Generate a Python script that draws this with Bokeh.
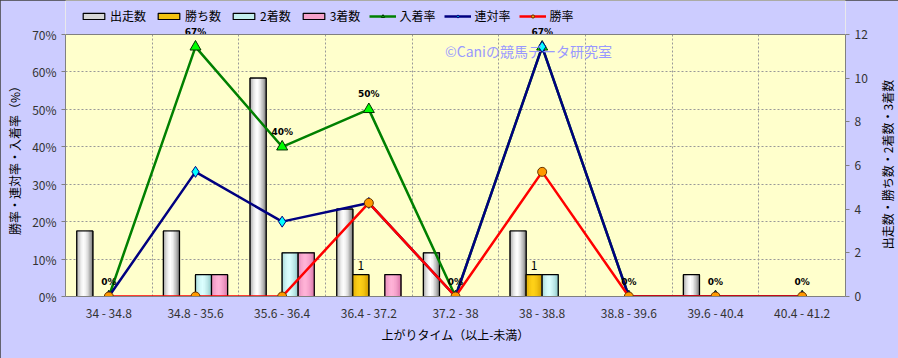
import numpy as np
from bokeh.plotting import figure
from bokeh.models import (Range1d, LinearAxis, FixedTicker, PrintfTickFormatter,
                          Legend, LegendItem, Label, Span)
from bokeh.core.properties import value
from bokeh.embed import file_html
from bokeh.resources import INLINE

categories = ["34 - 34.8", "34.8 - 35.6", "35.6 - 36.4", "36.4 - 37.2", "37.2 - 38",
              "38 - 38.8", "38.8 - 39.6", "39.6 - 40.4", "40.4 - 41.2"]
runs = [3, 3, 10, 4, 2, 3, 0, 1, 0]
wins = [0, 0, 0, 1, 0, 1, 0, 0, 0]
seconds = [0, 1, 2, 0, 0, 1, 0, 0, 0]
thirds = [0, 1, 2, 1, 0, 0, 0, 0, 0]
place_rate = [0, 66.7, 40, 50, 0, 66.7, 0, 0, 0]
quinella_rate = [0, 33.3, 20, 25, 0, 66.7, 0, 0, 0]
win_rate = [0, 0, 0, 25, 0, 33.3, 0, 0, 0]
place_labels = ["0%", "67%", "40%", "50%", "0%", "67%", "0%", "0%", "0%"]
left_ticks = [0, 10, 20, 30, 40, 50, 60, 70]
right_ticks = [0, 2, 4, 6, 8, 10, 12]

JP = "Noto Sans CJK JP"
LAV = "#CCCCFF"
PAD = "\u3000\u3000"  # keeps rotated title centred on the 0-70% span
n = len(categories)
xc = np.arange(n) + 0.5

PCT_MAX = 70.0
CNT_MAX = 12.0
# frame extends to the canvas top so that the legend and top labels are drawn
EXT = 296.0 / 262.0
y_top = PCT_MAX * EXT

p = figure(width=898, height=358, x_range=Range1d(0, n), y_range=Range1d(0, y_top),
           output_backend="svg", toolbar_location=None,
           min_border_left=65, min_border_right=53, min_border_top=0, min_border_bottom=62)
p.extra_y_ranges = {"cnt": Range1d(0, CNT_MAX * EXT)}
p.background_fill_color = "#FFFFCC"
p.border_fill_color = LAV
p.outline_line_color = None
p.styles = {"outline": "1px solid #404040", "outline-offset": "-1px"}

# axes
p.xaxis.ticker = FixedTicker(ticks=list(xc))
p.xaxis.major_label_overrides = {float(x): c for x, c in zip(xc, categories)}
p.xaxis.major_tick_out = 0
p.xaxis.major_tick_in = 0
p.xaxis.major_label_standoff = 7
p.xaxis.axis_label = "上がりタイム（以上-未満）"
p.xaxis.axis_label_standoff = 2

p.yaxis.ticker = FixedTicker(ticks=left_ticks)
p.yaxis.formatter = PrintfTickFormatter(format="%d%%")
p.yaxis.axis_label = "勝率・連対率・入着率（%）" + PAD
p.yaxis.axis_label_standoff = 6
p.yaxis.bounds = (0, PCT_MAX)

raxis = LinearAxis(y_range_name="cnt", ticker=FixedTicker(ticks=right_ticks),
                   bounds=(0, CNT_MAX))
p.add_layout(raxis, "right")

for ax in [p.xaxis[0], p.yaxis[0], raxis]:
    ax.major_label_text_font = JP
    ax.major_label_text_font_size = "12px"
    ax.major_label_text_color = "#333333"
    ax.axis_label_text_font = JP
    ax.axis_label_text_font_size = "12px"
    ax.axis_label_text_font_style = "normal"
    ax.axis_label_text_color = "#000000"
    ax.minor_tick_line_color = None
    ax.axis_line_color = "#808080"
    ax.major_tick_line_color = "#808080"
for ax in [p.yaxis[0], raxis]:
    ax.major_tick_out = 4
    ax.major_tick_in = 0
    ax.major_label_standoff = 5

# right-hand title, read from bottom to top, in the right side panel
p.add_layout(Label(x=17, y=132, x_units="screen", y_units="screen",
                   text="出走数・勝ち数・2着数・3着数", text_font=JP, text_font_size="12px",
                   text_color="#000000", angle=np.pi / 2, text_align="center",
                   text_baseline="middle"), "right")

# grid
p.xgrid.ticker = FixedTicker(ticks=list(range(1, n)))
p.ygrid.ticker = FixedTicker(ticks=left_ticks[1:-1])
for g in [p.xgrid[0], p.ygrid[0]]:
    g.grid_line_color = "#999999"
    g.grid_line_dash = "2 2"
    g.grid_line_width = 1

# band above the plot area (part of the outer background)
p.quad(left=[0], right=[n], bottom=[PCT_MAX], top=[y_top], fill_color=LAV, line_color=None)
p.add_layout(Span(location=PCT_MAX, dimension="width", line_color="#808080", line_width=1))


def hexrgb(h):
    h = h.lstrip("#")
    return tuple(int(h[i:i + 2], 16) for i in (0, 2, 4))


def mix(c1, c2, s):
    a, b = hexrgb(c1), hexrgb(c2)
    return "#%02x%02x%02x" % tuple(int(round(x + (y - x) * s)) for x, y in zip(a, b))


bar_w = 0.185
NSTRIP = 10


def draw_bars(vals, idx, edge, center):
    xs = xc + (idx - 1.5) * bar_w
    base = p.vbar(x=xs, top=vals, bottom=0, width=bar_w, fill_color=mix(edge, center, 0.7),
                  line_color="#000000", line_width=1.2, y_range_name="cnt")
    sw = bar_w / NSTRIP
    for k in range(NSTRIP):
        t = (k + 0.5) / NSTRIP
        s = max(0.0, 1 - (abs(t - 0.45) / 0.55) ** 1.6)
        col = mix(edge, center, s)
        p.vbar(x=xs - bar_w / 2 + (k + 0.5) * sw, top=vals, bottom=0, width=sw,
               fill_color=col, line_color=col, line_width=0.6, y_range_name="cnt")
    p.vbar(x=xs, top=vals, bottom=0, width=bar_w, fill_alpha=0,
           line_color="#000000", line_width=1.2, y_range_name="cnt")
    return base


lg_runs = draw_bars(runs, 0, "#7a7a7a", "#ffffff")
lg_wins = draw_bars(wins, 1, "#d29c00", "#ffd21a")
lg_sec = draw_bars(seconds, 2, "#8cc8c8", "#dcffff")
lg_thr = draw_bars(thirds, 3, "#dc78aa", "#ffb4d8")

# lines
l1 = p.line(xc, place_rate, line_color="#008000", line_width=2.5)
m1 = p.scatter(xc, place_rate, marker="triangle", size=11, fill_color="#00FF00",
               line_color="#003300", line_width=1)
l2 = p.line(xc, quinella_rate, line_color="#000080", line_width=2.5)
m2 = p.scatter(xc, quinella_rate, marker="diamond", size=11, fill_color="#00FFFF",
               line_color="#000080", line_width=1)
l3 = p.line(xc, win_rate, line_color="#FF0000", line_width=2.5)
m3 = p.scatter(xc, win_rate, marker="circle", size=9, fill_color="#FF9900",
               line_color="#663300", line_width=1)

# labels
p.text(x=xc, y=place_rate, text=place_labels, text_font=value("DejaVu Sans"),
       text_font_size="9px", text_font_style="bold", text_align="center",
       text_baseline="bottom", y_offset=-10, text_color="#000000")
wx = [x + (1 - 1.5) * bar_w for x, w in zip(xc, wins) if w > 0]
wy = [w for w in wins if w > 0]
p.text(x=wx, y=wy, text=[str(w) for w in wy], text_font=value(JP),
       text_font_size="12px", text_align="center", text_baseline="bottom",
       y_offset=-5, text_color="#000000", y_range_name="cnt")

# watermark
p.add_layout(Label(x=4.38, y=65.7, text="©Caniの競馬データ研究室", text_font=JP,
                   text_font_size="14px", text_color="#9999FF", text_baseline="middle"))

legend = Legend(items=[
    LegendItem(label="出走数", renderers=[lg_runs]),
    LegendItem(label="勝ち数", renderers=[lg_wins]),
    LegendItem(label="2着数", renderers=[lg_sec]),
    LegendItem(label="3着数", renderers=[lg_thr]),
    LegendItem(label="入着率", renderers=[l1, m1]),
    LegendItem(label="連対率", renderers=[l2, m2]),
    LegendItem(label="勝率", renderers=[l3, m3]),
], orientation="horizontal", location=(13, 270))
legend.label_text_font = JP
legend.label_text_font_size = "12px"
legend.label_text_color = "#000000"
legend.glyph_width = 27
legend.glyph_height = 8
legend.label_standoff = 3
legend.spacing = 9
legend.padding = 2
legend.margin = 0
legend.border_line_alpha = 0
legend.background_fill_alpha = 0
legend.label_height = 14
p.add_layout(legend)

open("out.html", "w").write(file_html(p, INLINE))
